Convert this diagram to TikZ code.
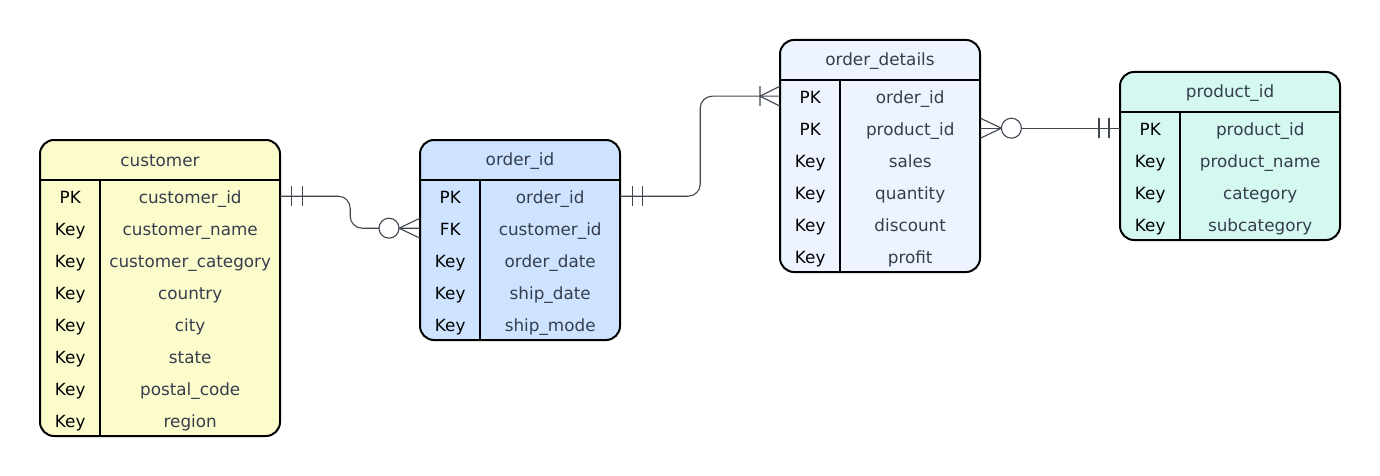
\documentclass[tikz,border=0pt]{standalone}
\usepackage{fontspec}
\setmainfont{DejaVu Sans}
\usetikzlibrary{calc, positioning}

\definecolor{custfill}{HTML}{FCFBCB}
\definecolor{ordfill}{HTML}{CDE3FF}
\definecolor{detfill}{HTML}{EDF4FF}
\definecolor{prodfill}{HTML}{D5F9F1}
\definecolor{txtgray}{HTML}{363E4E}
\definecolor{linegray}{HTML}{3F4550}

\begin{document}
\begin{tikzpicture}[x=1pt, y=-1pt,
  tablebox/.style={draw=black, line width=2pt, rounded corners=14pt},
  sep/.style={draw=black, line width=2pt},
  title/.style={font=\fontsize{16.8}{19}\selectfont, text=txtgray},
  keycell/.style={minimum width=60pt, minimum height=32pt, inner sep=0pt, anchor=north west,
    text height=15pt, text depth=1pt, font=\fontsize{16.8}{19}\selectfont, text=black},
  fieldcell/.style={minimum height=32pt, inner sep=0pt, anchor=north west,
    text height=15pt, text depth=1pt, font=\fontsize{16.8}{19}\selectfont, text=txtgray},
  rel/.style={draw=linegray, line width=1.1pt}]
  \useasboundingbox (0,0) rectangle (1380,476);

  % customer
  \filldraw[tablebox, fill=custfill] (40,140) rectangle (280,436);
  \draw[sep] (40,180) -- (280,180) (100,180) -- (100,436);
  \node[title] (customer) at (160,161) {customer};
  \foreach \k/\f [count=\i] in {PK/customer\_id, Key/customer\_name, Key/customer\_category,
      Key/country, Key/city, Key/state, Key/postal\_code, Key/region}
    {\node[keycell] (cust-k\i) at (40,{180+32*(\i-1)}) {\k};
     \node[fieldcell, minimum width=180pt] (cust-f\i) at (100,{180+32*(\i-1)}) {\f};}

  % order_id
  \filldraw[tablebox, fill=ordfill] (420,140) rectangle (620,340);
  \draw[sep] (420,180) -- (620,180) (480,180) -- (480,340);
  \node[title] (orders) at (520,161) {order\_id};
  \foreach \k/\f [count=\i] in {PK/order\_id, FK/customer\_id, Key/order\_date,
      Key/ship\_date, Key/ship\_mode}
    {\node[keycell] (ord-k\i) at (420,{180+32*(\i-1)}) {\k};
     \node[fieldcell, minimum width=140pt] (ord-f\i) at (480,{180+32*(\i-1)}) {\f};}

  % order_details
  \filldraw[tablebox, fill=detfill] (780,40) rectangle (980,272);
  \draw[sep] (780,80) -- (980,80) (840,80) -- (840,272);
  \node[title] (details) at (880,61) {order\_details};
  \foreach \k/\f [count=\i] in {PK/order\_id, PK/product\_id, Key/sales,
      Key/quantity, Key/discount, Key/profit}
    {\node[keycell] (det-k\i) at (780,{80+32*(\i-1)}) {\k};
     \node[fieldcell, minimum width=140pt] (det-f\i) at (840,{80+32*(\i-1)}) {\f};}

  % product_id
  \filldraw[tablebox, fill=prodfill] (1120,72) rectangle (1340,240);
  \draw[sep] (1120,112) -- (1340,112) (1180,112) -- (1180,240);
  \node[title] (product) at (1230,93) {product\_id};
  \foreach \k/\f [count=\i] in {PK/product\_id, Key/product\_name, Key/category,
      Key/subcategory}
    {\node[keycell] (prod-k\i) at (1120,{112+32*(\i-1)}) {\k};
     \node[fieldcell, minimum width=160pt] (prod-f\i) at (1180,{112+32*(\i-1)}) {\f};}

  % relations
  \coordinate (bend1) at ($(cust-f1.east)!0.5!(ord-k2.west)$);
  \draw[rel, rounded corners=12pt] (cust-f1.east) -| (bend1 |- ord-k2.west) -- (ord-k2.west);
  \draw[rel] ($(cust-f1.east)+(11,-10)$) -- ++(0,20) ($(cust-f1.east)+(22,-10)$) -- ++(0,20);
  \draw[rel] ($(ord-k2.west)+(-21,0)$) -- ($(ord-k2.west)+(0,-10)$)
    ($(ord-k2.west)+(-21,0)$) -- ($(ord-k2.west)+(0,10)$);
  \draw[rel, fill=white] ($(ord-k2.west)+(-31,0)$) circle (10pt);

  \coordinate (bend2) at ($(ord-f1.east)!0.5!(det-k1.west)$);
  \draw[rel, rounded corners=12pt] (ord-f1.east) -| (bend2 |- det-k1.west) -- (det-k1.west);
  \draw[rel] ($(ord-f1.east)+(12,-10)$) -- ++(0,20) ($(ord-f1.east)+(22,-10)$) -- ++(0,20);
  \draw[rel] ($(det-k1.west)+(-20,-10)$) -- ++(0,20)
    ($(det-k1.west)+(-20,0)$) -- ($(det-k1.west)+(0,-10)$)
    ($(det-k1.west)+(-20,0)$) -- ($(det-k1.west)+(0,10)$);

  \draw[rel] (det-f2.east) -- (prod-k1.west);
  \draw[rel] ($(det-f2.east)+(21,0)$) -- ($(det-f2.east)+(0,-10)$)
    ($(det-f2.east)+(21,0)$) -- ($(det-f2.east)+(0,10)$);
  \draw[rel, fill=white] ($(det-f2.east)+(31,0)$) circle (10pt);
  \draw[rel] ($(prod-k1.west)+(-21,-10)$) -- ++(0,20) ($(prod-k1.west)+(-11,-10)$) -- ++(0,20);
\end{tikzpicture}
\end{document}
